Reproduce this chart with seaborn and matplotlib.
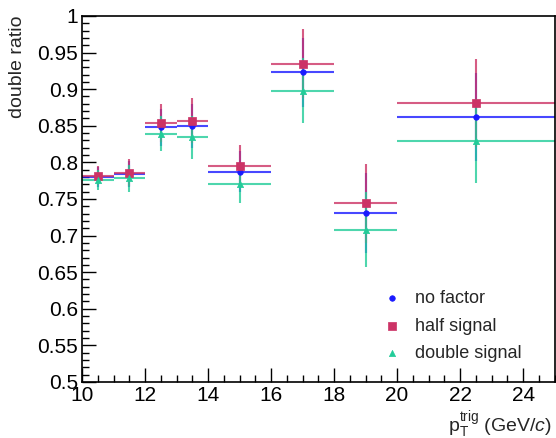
import numpy as np
import pandas as pd
import matplotlib
matplotlib.use('Agg')
import matplotlib.pyplot as plt
import seaborn as sns
from matplotlib.ticker import MultipleLocator, FuncFormatter

# bins in pT^trig (GeV/c)
bin_lo = [10, 11, 12, 13, 14, 16, 18, 20]
bin_hi = [11, 12, 13, 14, 16, 18, 20, 25]

no_factor = [0.780, 0.784, 0.848, 0.850, 0.787, 0.923, 0.731, 0.862]
no_factor_err = [0.013, 0.018, 0.025, 0.030, 0.028, 0.047, 0.055, 0.060]
half_signal = [0.782, 0.786, 0.854, 0.857, 0.795, 0.935, 0.744, 0.881]
half_signal_err = [0.013, 0.018, 0.026, 0.031, 0.029, 0.047, 0.054, 0.060]
double_signal = [0.776, 0.778, 0.839, 0.834, 0.771, 0.898, 0.708, 0.829]
double_signal_err = [0.014, 0.018, 0.024, 0.029, 0.026, 0.044, 0.051, 0.057]

series_names = ['no factor', 'half signal', 'double signal']
series_colors = ['#1a1aff', '#cc3366', '#22cc99']
series_markers = ['o', 's', '^']
series_sizes = [16, 30, 20]

sns.set_theme(style='ticks')
plt.rcParams['font.family'] = ['Liberation Sans', 'DejaVu Sans']
plt.rcParams['mathtext.fontset'] = 'custom'
plt.rcParams['mathtext.rm'] = 'Liberation Sans'
plt.rcParams['mathtext.it'] = 'Liberation Sans:italic'

centers = [(a + b) / 2 for a, b in zip(bin_lo, bin_hi)]
halfw = [(b - a) / 2 for a, b in zip(bin_lo, bin_hi)]

frames = []
for name, vals, errs in [('no factor', no_factor, no_factor_err),
                         ('half signal', half_signal, half_signal_err),
                         ('double signal', double_signal, double_signal_err)]:
    frames.append(pd.DataFrame({'pt': centers, 'xerr': halfw, 'ratio': vals,
                                'err': errs, 'series': name}))
df = pd.concat(frames, ignore_index=True)

fig = plt.figure(figsize=(5.56, 4.38), dpi=100)
ax = fig.add_axes([0.1475, 0.128, 0.850, 0.8355])

for name, col, mk, sz in zip(series_names, series_colors, series_markers, series_sizes):
    d = df[df['series'] == name]
    ax.errorbar(d['pt'], d['ratio'], xerr=d['xerr'], yerr=d['err'], fmt='none',
                ecolor=col, elinewidth=1.5, capsize=0, alpha=0.8, zorder=2)
    sns.scatterplot(data=d, x='pt', y='ratio', ax=ax, color=col, marker=mk, s=sz,
                    edgecolor=col, linewidth=0.5, label=name, zorder=3)

ax.set_xlim(10, 25)
ax.set_ylim(0.5, 1.0)
ax.xaxis.set_major_locator(MultipleLocator(2))
ax.xaxis.set_minor_locator(MultipleLocator(0.5))
ax.yaxis.set_major_locator(MultipleLocator(0.05))
ax.yaxis.set_minor_locator(MultipleLocator(0.01))
ax.yaxis.set_major_formatter(FuncFormatter(lambda v, p: '%g' % round(v, 2)))
ax.tick_params(which='both', direction='in', top=False, right=False,
               labelsize=15, colors='black', width=1)
ax.tick_params(which='major', length=10, pad=3)
ax.tick_params(which='minor', length=5)
for s in ax.spines.values():
    s.set_color('black')
    s.set_linewidth(1.2)

ax.set_xlabel(r'$\mathrm{p}_{\mathrm{T}}^{\mathrm{trig}}$ (GeV/$c$)', fontsize=14)
ax.xaxis.set_label_coords(0.995, -0.075)
ax.xaxis.label.set_horizontalalignment('right')
ax.set_ylabel('double ratio', fontsize=14)
ax.yaxis.set_label_coords(-0.118, 1.0)
ax.yaxis.label.set_horizontalalignment('right')

leg = ax.legend(loc='upper left', bbox_to_anchor=(0.5825, 0.295), frameon=False,
                fontsize=13, labelspacing=0.58, handletextpad=0.3, markerscale=1.0)

fig.savefig('out.png', dpi=100)
